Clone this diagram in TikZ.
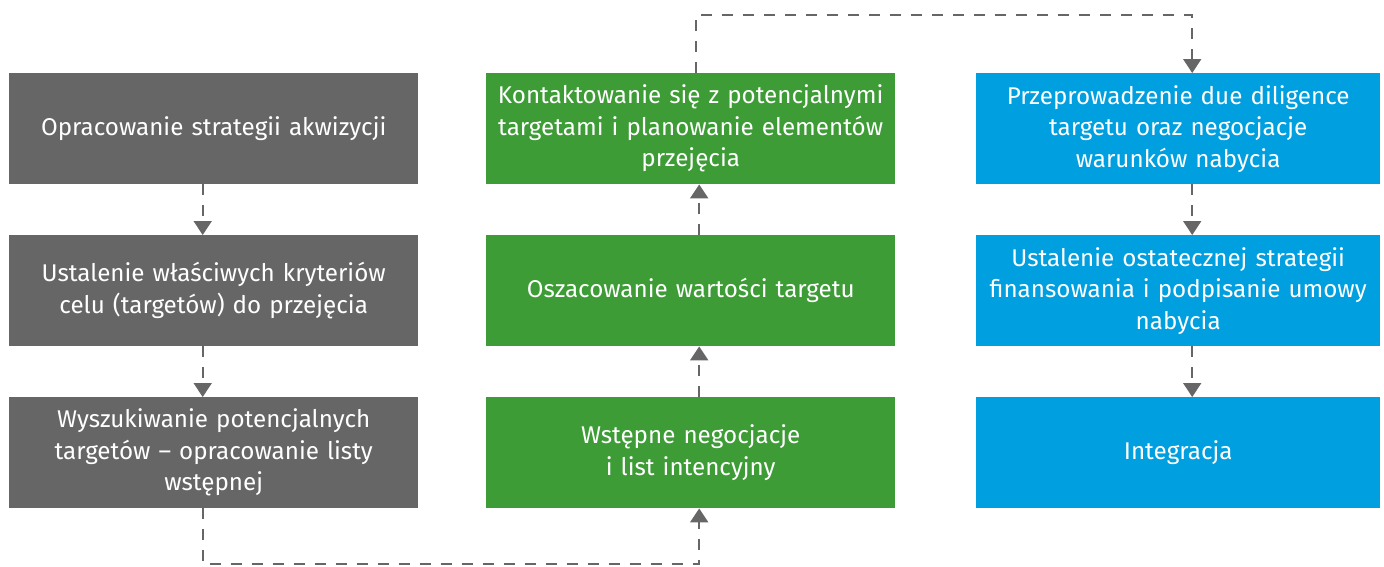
\documentclass[tikz,border=0pt]{standalone}
\usepackage{fontspec}
\setmainfont{Fira Sans}
\usepackage{tikz}
\usetikzlibrary{arrows.meta,matrix,positioning}

\definecolor{boxgray}{HTML}{666666}
\definecolor{boxgreen}{HTML}{3D9C35}
\definecolor{boxblue}{HTML}{009FDF}
\definecolor{linegray}{HTML}{666666}

\tikzset{
  box/.style={text=white,align=center,text width=399pt,inner xsep=5pt,
              inner ysep=0pt,minimum height=111pt,anchor=center,
              font=\fontsize{24.2}{31.5}\selectfont},
  graybox/.style={box,fill=boxgray},
  greenbox/.style={box,fill=boxgreen},
  bluebox/.style={box,fill=boxblue,text width=394pt},
  link/.style={draw=linegray,line width=2pt,dash pattern=on 11pt off 10pt,
               -{Triangle[width=18pt,length=14pt]}}
}

\begin{document}
\begin{tikzpicture}[x=1pt,y=-1pt]
  \useasboundingbox (0,0) rectangle (1384,566);
  \matrix[matrix of nodes,column sep=68pt,row sep=51pt,inner sep=0pt,
          anchor=north west] (p) at (9,73) {
%
  |[name=ptl,graybox]| {Opracowanie strategii akwizycji}
  & |[name=ptm,greenbox]| {Kontaktowanie się z potencjalnymi\\ targetami i planowanie elementów\\ przejęcia}
  &[13pt] |[name=ptr,bluebox]| {Przeprowadzenie due diligence\\ targetu oraz negocjacje\\ warunków nabycia} \\
  |[name=pml,graybox]| {Ustalenie właściwych kryteriów\\ celu (targetów) do przejęcia}
  & |[name=pmm,greenbox]| {Oszacowanie wartości targetu}
  & |[name=pmr,bluebox]| {Ustalenie ostatecznej strategii\\ finansowania i podpisanie umowy\\ nabycia} \\
  |[name=pbl,graybox]| {Wyszukiwanie potencjalnych\\ targetów -- opracowanie listy\\ wstępnej}
  & |[name=pbm,greenbox]| {Wstępne negocjacje\\ i list intencyjny}
  & |[name=pbr,bluebox]| {Integracja} \\
%
  } ;
%
  \draw [link] ([xshift=-11pt]ptl.south) -- ([xshift=-11pt]pml.north) ;
  \draw [link] ([xshift=-11pt]pml.south) -- ([xshift=-11pt]pbl.north) ;
%
  \draw [link] ([xshift=8.5pt]pbm.north) -- ([xshift=8.5pt]pmm.south) ;
  \draw [link] ([xshift=8.5pt]pmm.north) -- ([xshift=8.5pt]ptm.south) ;
%
  \draw [link] ([xshift=14pt]ptr.south) -- ([xshift=14pt]pmr.north) ;
  \draw [link] ([xshift=14pt]pmr.south) -- ([xshift=14pt]pbr.north) ;
%
  \draw [link] ([xshift=-11pt]pbl.south) -- ++(0,56) -| ([xshift=8.5pt]pbm.south) ;
  \draw [link] ([xshift=5.5pt]ptm.north) -- ++(0,-58) -| ([xshift=14pt]ptr.north) ;
%
\end{tikzpicture}
\end{document}
